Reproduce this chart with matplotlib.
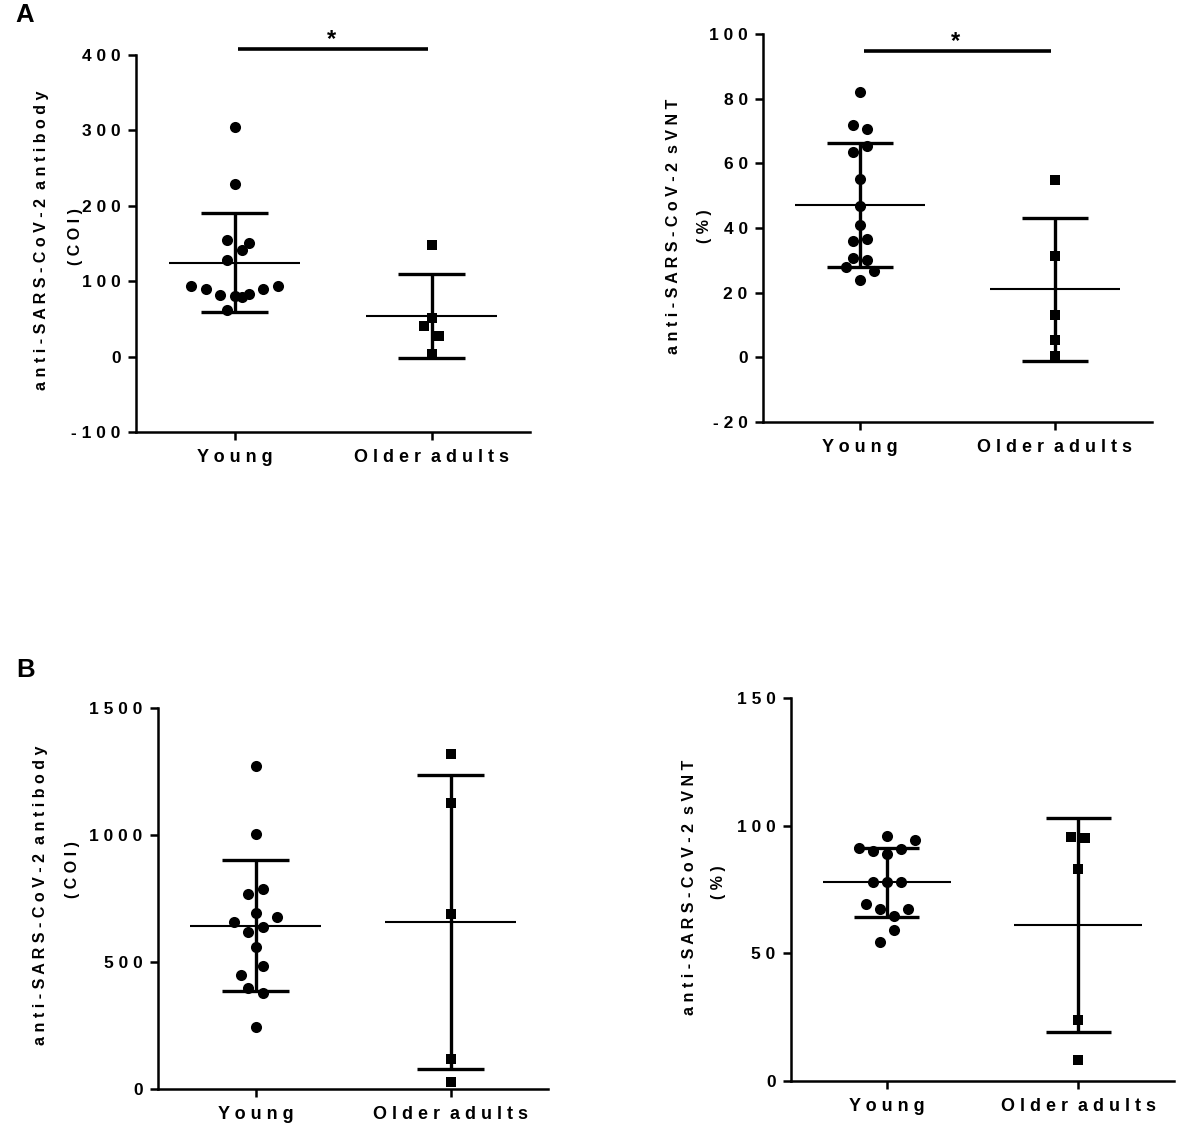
import matplotlib
matplotlib.use("Agg")
import matplotlib.pyplot as plt
import numpy as np

plt.rcParams['font.family'] = ['Liberation Sans', 'DejaVu Sans']
plt.rcParams['font.weight'] = 'bold'

# ---------------- data ----------------
groups = ['Young', 'Older adults']

# Panel A, left: anti-SARS-CoV-2 antibody (COI)
a_ab_young = [305, 229, 154, 150.5, 142, 128, 93.6, 90, 82, 81, 79, 83, 90, 94, 62]
a_ab_older = [148, 51, 40, 27, 3.5]
a_ab_mean = [124.5, 54.0]
a_ab_sd = [66.0, 55.5]
a_ab_ticks = [-100, 0, 100, 200, 300, 400]

# Panel A, right: sVNT (%)
a_nt_young = [82, 71.8, 70.6, 65.3, 63.5, 55.2, 46.8, 40.8, 36.1, 36.6, 30.7, 30.1, 27.8, 26.7, 24.0]
a_nt_older = [55.0, 31.2, 13.2, 5.4, 0.4]
a_nt_mean = [47.2, 21.1]
a_nt_sd = [19.25, 22.15]
a_nt_ticks = [-20, 0, 20, 40, 60, 80, 100]

# Panel B, left: anti-SARS-CoV-2 antibody (COI)
b_ab_young = [1270, 1005, 786, 766, 694, 675, 657, 638, 618, 560, 483, 449, 399, 377, 244]
b_ab_older = [1318, 1127, 688, 119, 26]
b_ab_mean = [642, 657]
b_ab_sd = [257, 580]
b_ab_ticks = [0, 500, 1000, 1500]

# Panel B, right: sVNT (%)
b_nt_young = [96.0, 94.3, 91.4, 90.1, 90.9, 88.9, 78.1, 77.8, 77.8, 69.2, 67.2, 67.5, 64.7, 59.0, 54.4]
b_nt_older = [95.6, 95.1, 83.0, 23.8, 8.1]
b_nt_mean = [77.8, 61.1]
b_nt_sd = [13.55, 42.05]
b_nt_ticks = [0, 50, 100, 150]

ylabel_ab = ['anti-SARS-CoV-2 antibody', '(COI)']
ylabel_nt = ['anti-SARS-CoV-2 sVNT', '(%)']

# ---------------- layout (not data) ----------------
# horizontal scatter offsets (in steps) so points do not hide each other
jit_a_ab = ([0, 0, -1, 2, 1, -1, -6, -4, -2, 0, 1, 2, 4, 6, -1], [0, 0, -1, 1, 0])
jit_a_nt = ([0, -1, 1, 1, -1, 0, 0, 0, -1, 1, -1, 1, -2, 2, 0], [0, 0, 0, 0, 0])
jit_b_ab = ([0, 0, 1, -1, 0, 3, -3, 1, -1, 0, 1, -2, -1, 1, 0], [0, 0, 0, 0, 0])
jit_b_nt = ([0, 4, -4, -2, 2, 0, -2, 0, 2, -3, -1, 3, 1, 1, -1], [-1, 1, 0, 0, 0])
STEP = 0.0365

W, H = 1181, 1130
fig = plt.figure(figsize=(W / 100, H / 100), dpi=100)


def spaced(s):
    return ' '.join(s).replace('   ', '  ')


def px_axes(l, t, r, b):
    return fig.add_axes([l / W, 1 - b / H, (r - l) / W, (b - t) / H])


def draw_panel(rect, young, older, means, sds, jit, ticks, ylab, ylab_pos, sig=None):
    ax = px_axes(*rect)
    for gi, (vals, marker, ms) in enumerate([(young, 'o', 8.0), (older, 's', 7.2)]):
        x = gi + np.array(jit[gi]) * STEP
        ax.plot(x, vals, linestyle='none', marker=marker, ms=ms, color='black',
                markeredgewidth=0, clip_on=False, zorder=3)
        m, s = means[gi], sds[gi]
        ax.hlines(m, gi - 0.335, gi + 0.335, color='black', lw=1.5, zorder=2)
        ax.vlines(gi, m - s, m + s, color='black', lw=2.4, zorder=2)
        ax.hlines([m - s, m + s], gi - 0.17, gi + 0.17, color='black', lw=2.4, zorder=2)
    ax.set_xlim(-0.5, 1.5)
    ax.set_ylim(ticks[0], ticks[-1])
    ax.set_yticks(ticks)
    ax.set_yticklabels([spaced(str(t)) for t in ticks])
    ax.set_xticks([0, 1])
    ax.set_xticklabels([spaced(g) for g in groups])
    for sp in ['top', 'right']:
        ax.spines[sp].set_visible(False)
    for sp in ['left', 'bottom']:
        ax.spines[sp].set_linewidth(1.8)
    ax.tick_params(axis='y', direction='out', length=6, width=1.8, pad=5, labelsize=12.5)
    ax.tick_params(axis='x', direction='out', length=5.5, width=1.8, pad=7, labelsize=13)
    for lab in ax.get_xticklabels() + ax.get_yticklabels():
        lab.set_fontweight('bold')
    (x1, y1), (x2, y2) = ylab_pos
    fig.text(x1 / W, 1 - y1 / H, spaced(ylab[0]), rotation=90, ha='center', va='center',
             fontsize=11.5, fontweight='bold')
    fig.text(x2 / W, 1 - y2 / H, spaced(ylab[1]), rotation=90, ha='center', va='center',
             fontsize=11.5, fontweight='bold')
    if sig is not None:
        sy = sig
        ax.plot([0.02, 0.98], [sy, sy], color='black', lw=2.6, clip_on=False,
                solid_capstyle='butt')
        ax.annotate('*', xy=(0.49, sy), xytext=(0, 2), textcoords='offset points',
                    ha='center', va='baseline', fontsize=17, fontweight='bold',
                    annotation_clip=False)
    return ax


draw_panel((136, 55, 530, 432), a_ab_young, a_ab_older, a_ab_mean, a_ab_sd, jit_a_ab,
           a_ab_ticks, ylabel_ab, ((42, 240), (76, 237)), sig=408)
draw_panel((763, 34.3, 1152, 421.7), a_nt_young, a_nt_older, a_nt_mean, a_nt_sd, jit_a_nt,
           a_nt_ticks, ylabel_nt, ((674, 226), (704, 226)), sig=94.8)
draw_panel((158, 707.7, 548, 1089), b_ab_young, b_ab_older, b_ab_mean, b_ab_sd, jit_b_ab,
           b_ab_ticks, ylabel_ab, ((41, 895), (73, 870)))
draw_panel((791, 698.3, 1174, 1080.7), b_nt_young, b_nt_older, b_nt_mean, b_nt_sd, jit_b_nt,
           b_nt_ticks, ylabel_nt, ((689, 887), (719, 882)))

fig.text(24.5 / W, 1 - 15.5 / H, 'A', ha='center', va='center', fontsize=18.5, fontweight='bold')
fig.text(26 / W, 1 - 670 / H, 'B', ha='center', va='center', fontsize=18.5, fontweight='bold')

fig.savefig('out.png', dpi=100)
